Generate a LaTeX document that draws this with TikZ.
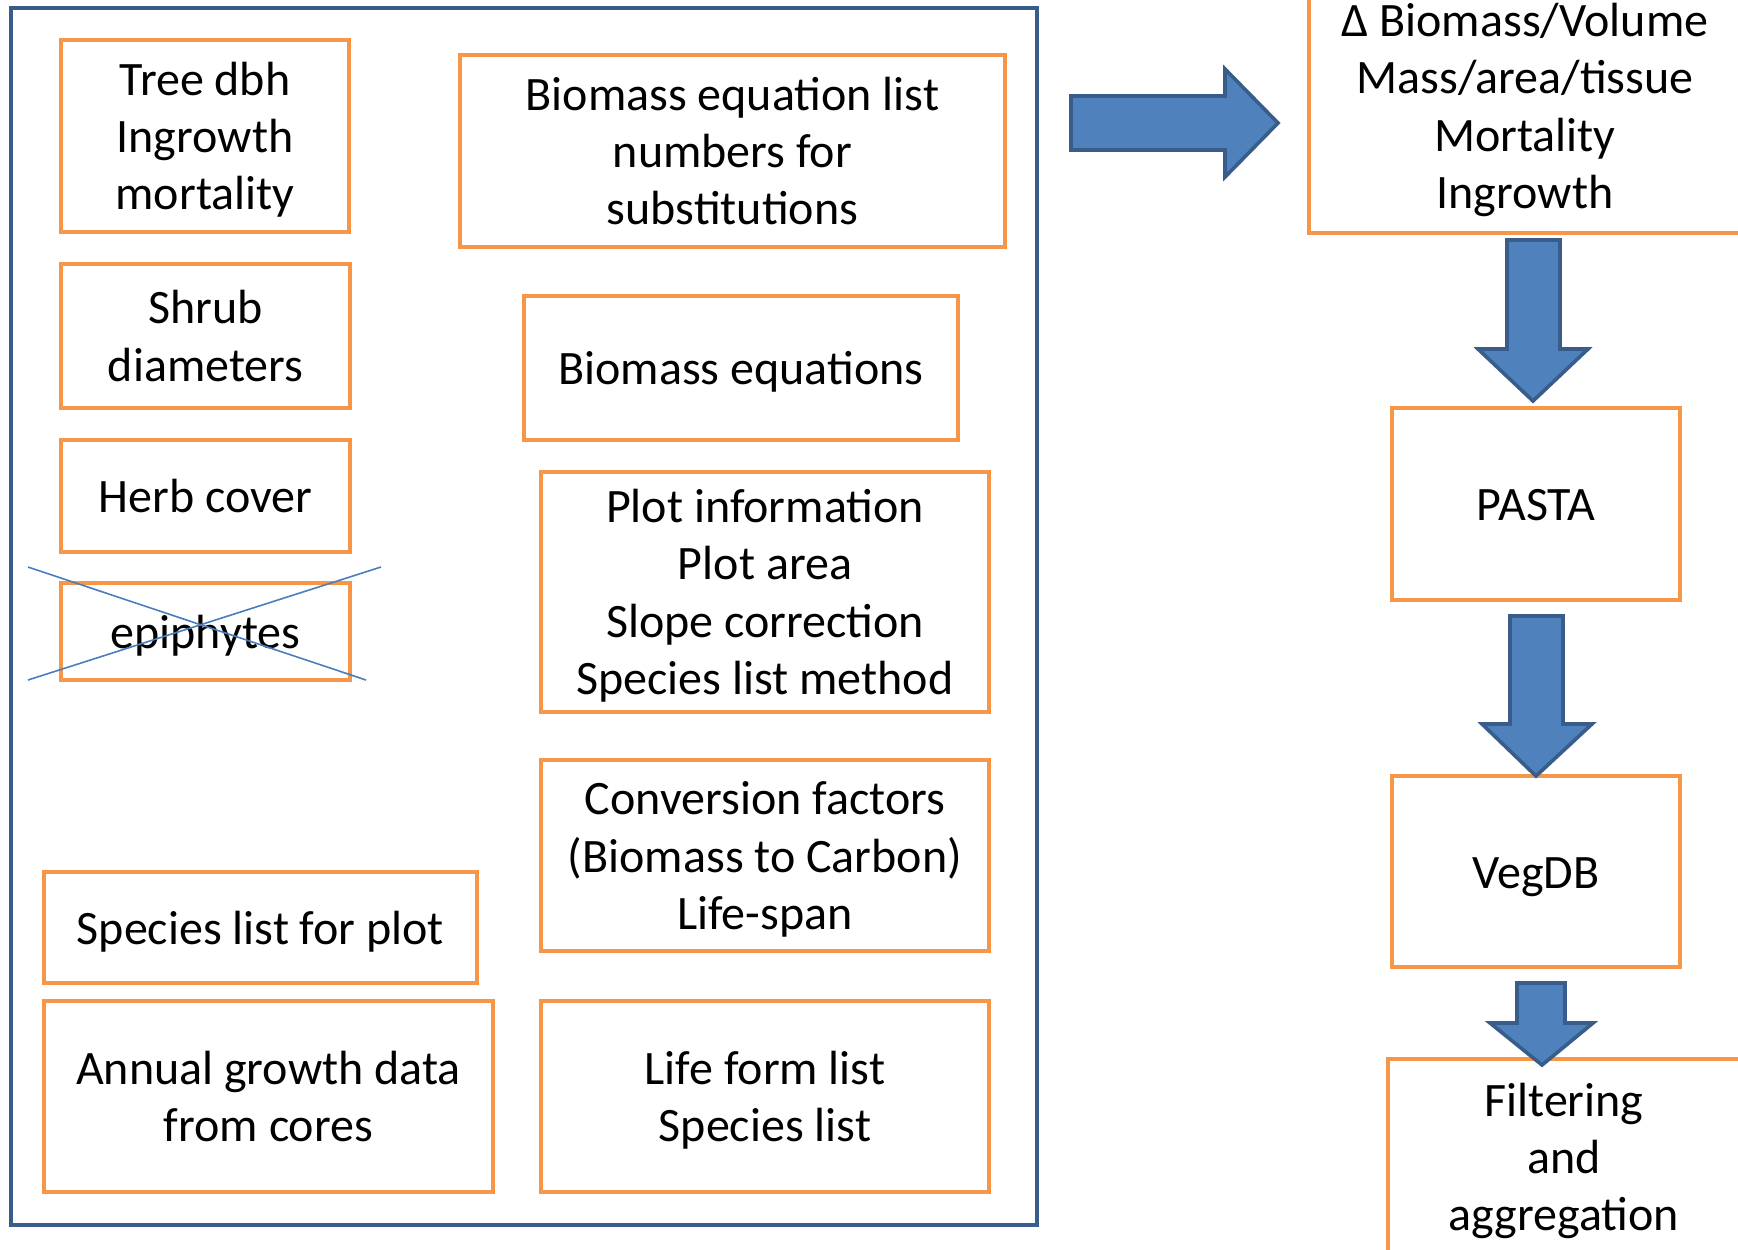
\documentclass[tikz,border=0pt]{standalone}
\usepackage{fontspec}
\setmainfont{Carlito}
\usepackage{tikz}
\usetikzlibrary{positioning}

\definecolor{boxorange}{HTML}{F79646}
\definecolor{frameblue}{HTML}{385D8A}
\definecolor{arrowblue}{HTML}{4F81BD}
\definecolor{crossblue}{HTML}{4A7EBB}

\tikzset{
  obox/.style={draw=boxorange, line width=2pt, align=center, inner sep=0pt,
    font=\fontsize{24}{28.7}\selectfont, text height=22.7pt, text depth=6pt},
  twoline/.style={text height=51.2pt},
  threeline/.style={text height=79.9pt},
  fourline/.style={text height=108.6pt},
  bigarrow/.style={draw=frameblue, fill=arrowblue, line width=1.8pt, line join=miter},
}

\begin{document}
\begin{tikzpicture}[x=0.5pt,y=-0.5pt]
  \useasboundingbox (0,0) rectangle (1738,1249);
  \clip (0,0) rectangle (1738,1249);

  % outer frame
  \draw[frameblue, line width=1.8pt] (11,8) rectangle (1037,1225);

  % left column
  \node[obox, threeline, minimum width=144pt, minimum height=96pt] (tree) at (205,136) {Tree dbh\\Ingrowth\\mortality};
  \node[obox, twoline, minimum width=144.5pt, minimum height=72pt] (shrub) at (205.5,336) {Shrub\\diameters};
  \node[obox, minimum width=144.5pt, minimum height=56pt] (herb) at (205.5,496) {Herb cover};
  \node[obox, minimum width=144.5pt, minimum height=48.5pt] (epi) at (205.5,631.5) {epiphytes};
  \draw[crossblue, line width=0.8pt] (28,567) -- (366,680);
  \draw[crossblue, line width=0.8pt] (28,680) -- (381,567);
  \node[obox, minimum width=216.5pt, minimum height=55.5pt] (splist) at (260.5,927.5) {Species list for plot};
  \node[obox, twoline, minimum width=224.5pt, minimum height=95.5pt] (growth) at (268.5,1096.5) {Annual growth data\\from cores};

  % middle column
  \node[obox, threeline, minimum width=272.5pt, minimum height=96pt] (eqlist) at (732.5,151) {Biomass equation list\\numbers for\\substitutions};
  \node[obox, minimum width=217pt, minimum height=72pt] (eqs) at (741,368) {Biomass equations};
  \node[obox, fourline, minimum width=224pt, minimum height=120pt] (plot) at (765,592) {Plot information\\Plot area\\Slope correction\\Species list method};
  \node[obox, threeline, minimum width=224pt, minimum height=95.5pt] (conv) at (765,855.5) {Conversion factors\\(Biomass to Carbon)\\Life-span};
  \node[obox, twoline, minimum width=224pt, minimum height=95.5pt] (life) at (765,1096.5) {Life form list\\Species list};

  % right column
  \node[obox, fourline, minimum width=216pt, minimum height=127pt] (delta) at (1525,106) {Δ Biomass/Volume\\Mass/area/tissue\\Mortality\\Ingrowth};
  \node[obox, minimum width=144pt, minimum height=96pt] (pasta) at (1536,504) {PASTA};
  \node[obox, minimum width=144pt, minimum height=95.5pt] (vegdb) at (1536,871.5) {VegDB};
  \node[obox, threeline, minimum width=176pt, minimum height=98pt] (filter) at (1564,1157) {Filtering\\and\\aggregation};

  % block arrows
  \draw[bigarrow] (1071,96) -- (1225,96) -- (1225,69) -- (1278,123) -- (1225,177) -- (1225,150) -- (1071,150) -- cycle;
  \draw[bigarrow] (1507,240) -- (1560,240) -- (1560,349) -- (1588,349) -- (1533,401) -- (1478,349) -- (1507,349) -- cycle;
  \draw[bigarrow] (1510,616) -- (1563,616) -- (1563,724) -- (1592,724) -- (1536,776) -- (1482,724) -- (1510,724) -- cycle;
  \draw[bigarrow] (1517,983) -- (1565,983) -- (1565,1023) -- (1593,1023) -- (1542,1065) -- (1490,1023) -- (1517,1023) -- cycle;
\end{tikzpicture}
\end{document}
